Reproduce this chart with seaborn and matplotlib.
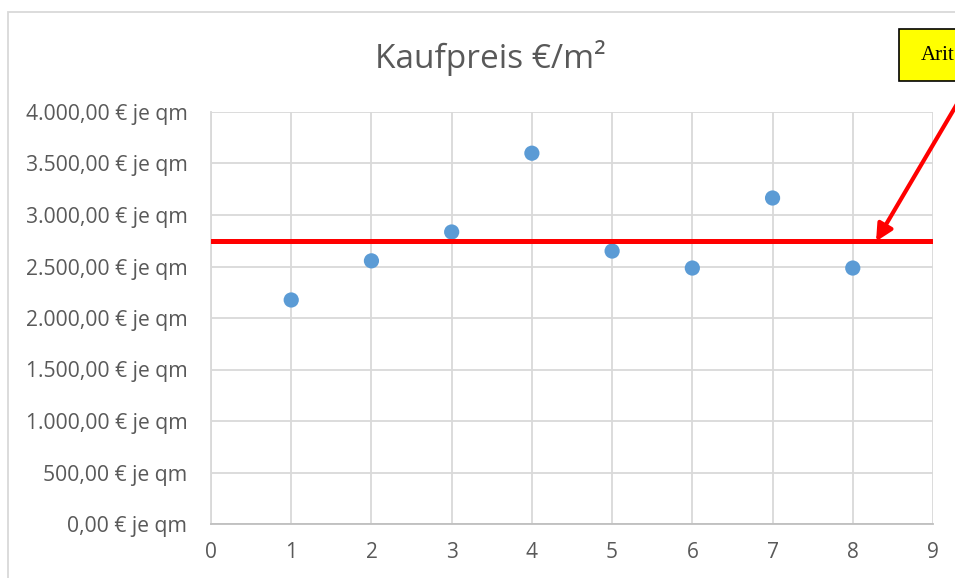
import pandas as pd
import matplotlib
matplotlib.use('Agg')
import seaborn as sns
from matplotlib import pyplot as plt
from matplotlib.patches import Rectangle
from matplotlib.ticker import FuncFormatter, MultipleLocator

# data
objekt = [1, 2, 3, 4, 5, 6, 7, 8]
kaufpreis = [2175, 2555, 2835, 3600, 2650, 2485, 3165, 2485]
mittel = sum(kaufpreis) / len(kaufpreis)

GRID = '#d9d9d9'
TXT = '#595959'

def EuroFormat(v, pos):
    s = '{:,.2f}'.format(v).replace(',', 'X').replace('.', ',').replace('X', '.')
    return s + ' € je qm'

pd_data = pd.DataFrame({'Objekt': objekt, 'Kaufpreis': kaufpreis})

sns.set_style("whitegrid")
plt.rcParams['font.family'] = ['Open Sans', 'DejaVu Sans']

fig = plt.figure(figsize=(9.55, 5.78), dpi=100)
W, H = 955, 578
axe = fig.add_axes([211/W, 1-524/H, (933-211)/W, (524-112)/H])

sns.scatterplot(data=pd_data, x='Objekt', y='Kaufpreis', ax=axe,
                color='#5b9bd5', s=120, edgecolor='none', zorder=3)
axe.axhline(mittel, color='red', linewidth=3.6, zorder=4)

axe.set_xlim(0, 9)
axe.set_ylim(0, 4000)
axe.xaxis.set_major_locator(MultipleLocator(1))
axe.yaxis.set_major_locator(MultipleLocator(500))
axe.yaxis.set_major_formatter(FuncFormatter(EuroFormat))
axe.grid(True, color=GRID, linewidth=1.3)
axe.set_xlabel('')
axe.set_ylabel('')
axe.tick_params(length=0, colors=TXT)
for lab in axe.get_yticklabels():
    lab.set_fontsize(15.2)
    lab.set_color(TXT)
for lab in axe.get_xticklabels():
    lab.set_fontsize(15)
    lab.set_color(TXT)
axe.tick_params(axis='y', pad=17)
axe.tick_params(axis='x', pad=13)
for side in ['top', 'right']:
    axe.spines[side].set_visible(False)
axe.spines['left'].set_color(GRID)
axe.spines['left'].set_linewidth(1.3)
axe.spines['bottom'].set_color('#bfbfbf')
axe.spines['bottom'].set_linewidth(1.3)

fig.text(490/W, 1-58/H, 'Kaufpreis €/m²', ha='center', va='center',
         fontsize=24, color=TXT)

# outer chart frame
fig.patches.append(Rectangle((8/W, -0.1), 2, 1.1 - 12/H, transform=fig.transFigure,
                             facecolor='none', edgecolor=GRID, linewidth=1.3))

# callout box, cut off at the right edge in the reference
fig.patches.append(Rectangle((899/W, 1-81/H), 0.3, 52/H, transform=fig.transFigure,
                             facecolor='yellow', edgecolor='black', linewidth=1.2, zorder=5))
fig.text(921/W, 1-55/H, 'Arit', ha='left', va='center', fontsize=15,
         family=['Liberation Serif', 'DejaVu Serif'], color='black', zorder=6)

axe.annotate('', xy=(8.29, mittel), xycoords='data',
             xytext=(970, H-82), textcoords='figure pixels',
             arrowprops=dict(arrowstyle='-|>', color='red', lw=3,
                             mutation_scale=25, shrinkA=0, shrinkB=0),
             annotation_clip=False, zorder=6)

plt.savefig('out.png', dpi=100)
